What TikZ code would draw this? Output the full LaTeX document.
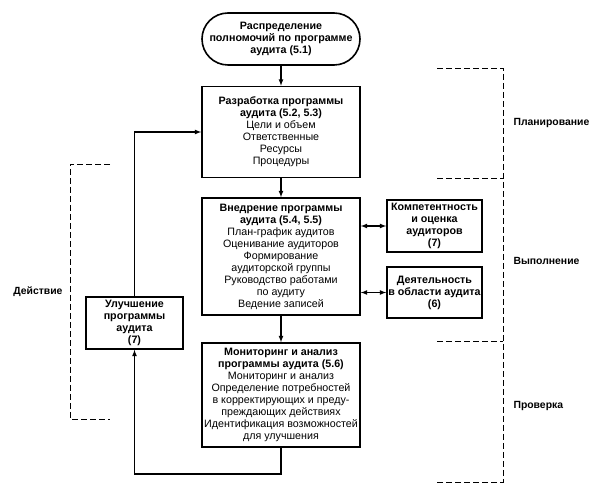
\documentclass[tikz,border=0pt]{standalone}
\usepackage{fontspec}
\setmainfont{Liberation Sans}
\tikzset{box/.style={draw, line width=1.6pt, align=center, inner sep=1pt,
    font=\fontsize{10.7}{12}\selectfont},
  arr/.style={line width=1.2pt, -latex},
  dbl/.style={line width=1.2pt, latex-latex},
  brk/.style={line width=0.6pt, dash pattern=on 6pt off 3pt},
  lbl/.style={font=\fontsize{10.4}{12}\selectfont\bfseries}}
\begin{document}
\begin{tikzpicture}[x=1pt,y=-1pt]
\useasboundingbox (0,0) rectangle (603,486);
\node[box, rounded corners=26pt, minimum width=158pt, minimum height=52pt] (alloc) at (281,39)
 {\textbf{Распределение}\\ \textbf{полномочий по программе}\\ \textbf{аудита (5.1)}};
\node[box, minimum width=158pt, minimum height=91pt] (develop) at (281,132)
 {\textbf{Разработка программы}\\ \textbf{аудита (5.2, 5.3)}\\ Цели и объем\\ Ответственные\\ Ресурсы\\ Процедуры};
\node[box, minimum width=158pt, minimum height=117pt] (implement) at (281,256.5)
 {\textbf{Внедрение программы}\\ \textbf{аудита (5.4, 5.5)}\\ План-график аудитов\\ Оценивание аудиторов\\ Формирование\\ аудиторской группы\\ Руководство работами\\ по аудиту\\ Ведение записей};
\node[box, minimum width=158pt, minimum height=104pt] (monitor) at (281,395)
 {\textbf{Мониторинг и анализ}\\ \textbf{программы аудита (5.6)}\\ Мониторинг и анализ\\ Определение потребностей\\ в корректирующих и преду-\\ преждающих действиях\\ Идентификация возможностей\\ для улучшения};
\node[box, minimum width=95pt, minimum height=52pt] (compet) at (434.5,226)
 {\textbf{Компетентность}\\ \textbf{и оценка}\\ \textbf{аудиторов}\\ \textbf{(7)}};
\node[box, minimum width=95pt, minimum height=51pt] (activ) at (434.5,292.5)
 {\textbf{Деятельность}\\ \textbf{в области аудита}\\ \textbf{(6)}};
\node[box, minimum width=97pt, minimum height=52pt] (improve) at (134.5,323)
 {\textbf{Улучшение}\\ \textbf{программы}\\ \textbf{аудита}\\ \textbf{(7)}};
% connectors
\draw[arr] (alloc) -- (develop);
\draw[arr] (develop) -- (implement);
\draw[arr] (implement) -- (monitor);
\draw[dbl] (implement.east |- compet.west) -- (compet.west);
\draw[dbl] (implement.east |- activ.west) -- (activ.west);
\coordinate (low) at (281,474);
\draw[arr] (monitor.south) -- (low) -| (improve.south);
\draw[arr] (improve.north) |- (develop.west);
% phases
\draw[brk] (437,68) -- (503,68) -- (503,482) -- (437,482);
\draw[brk] (437,178) -- (503,178);
\draw[brk] (437,341) -- (503,341);
\draw[brk] (110,164) -- (70,164) -- (70,419) -- (110,419);
\node[lbl, anchor=west] (plan) at (510,123) {Планирование};
\node[lbl, anchor=west] (exec) at (510,261) {Выполнение};
\node[lbl, anchor=west] (check) at (510,406) {Проверка};
\node[lbl, anchor=east] (act) at (66,292) {Действие};
\end{tikzpicture}
\end{document}
